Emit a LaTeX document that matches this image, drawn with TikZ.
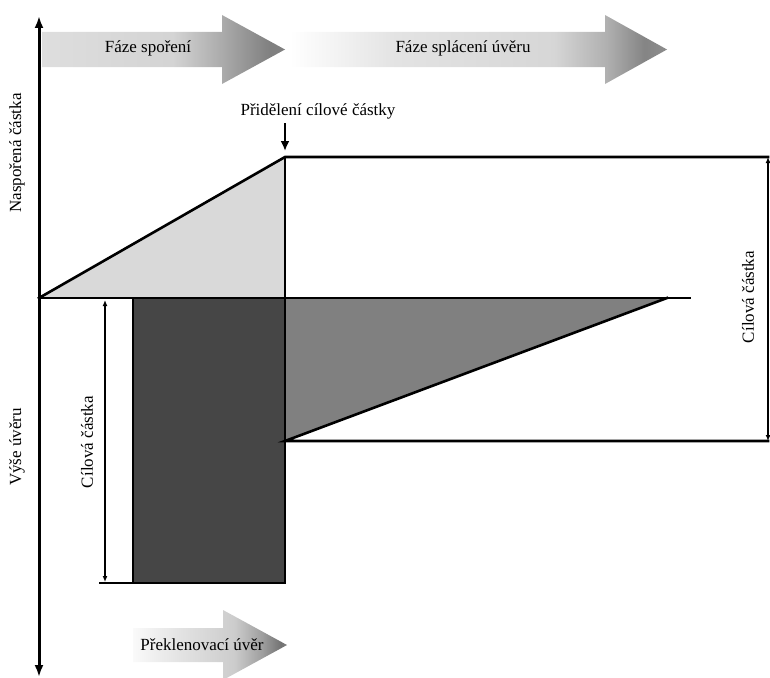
\documentclass[tikz,border=0pt]{standalone}
\usepackage{fontspec}
\setmainfont{Liberation Serif}
\usetikzlibrary{arrows.meta}

% horizontal fades for the three phase arrows (path box = 25bp..75bp)
\pgfdeclarehorizontalshading{savingshade}{100bp}{%
  rgb(0bp)=(.87,.87,.87); rgb(25bp)=(.87,.87,.87); rgb(52bp)=(.83,.83,.83);
  rgb(62bp)=(.67,.67,.67); rgb(72bp)=(.50,.50,.50); rgb(75bp)=(.50,.50,.50);
  rgb(100bp)=(.50,.50,.50)}
\pgfdeclarehorizontalshading{repayshade}{100bp}{%
  rgb(0bp)=(1,1,1); rgb(25bp)=(1,1,1); rgb(39bp)=(.89,.89,.89);
  rgb(60bp)=(.84,.84,.84); rgb(67bp)=(.69,.69,.69); rgb(72bp)=(.52,.52,.52);
  rgb(75bp)=(.55,.55,.55); rgb(100bp)=(.55,.55,.55)}
\pgfdeclarehorizontalshading{bridgeshade}{100bp}{%
  rgb(0bp)=(.98,.98,.98); rgb(25bp)=(.98,.98,.98); rgb(40bp)=(.89,.89,.89);
  rgb(58bp)=(.80,.80,.80); rgb(67bp)=(.62,.62,.62); rgb(73bp)=(.45,.45,.45);
  rgb(75bp)=(.50,.50,.50); rgb(100bp)=(.50,.50,.50)}

\definecolor{savefill}{HTML}{D9D9D9}
\definecolor{loanfill}{HTML}{464646}
\definecolor{repayfill}{HTML}{808080}

\tikzset{
  lbl/.style={font=\fontsize{17}{20}\selectfont, inner sep=1pt},
  edge/.style={line width=2.6pt, line cap=rect},
  axis/.style={line width=3pt, -{Latex[length=12pt,width=9pt]}},
  dim/.style={line width=2pt, {Latex[length=6pt,width=5pt]}-{Latex[length=6pt,width=5pt]}},
}

\begin{document}
\begin{tikzpicture}[x=1pt,y=-1pt]
\useasboundingbox (0,0) rectangle (770,677);

% key points of the chart
\coordinate (O) at (39,298);
\coordinate (T) at (285,157);
\coordinate (B) at (285,298);
\coordinate (L) at (285,441);
\coordinate (E) at (667,298);
\coordinate (H) at (690,298);
\coordinate (TR) at (768,157);
\coordinate (BR) at (768,441);
\coordinate (K1) at (133,298);
\coordinate (K2) at (285,583);
\coordinate (K3) at (100,583);

% phase arrows
\path[shading=savingshade] (42,32) -- (222,32) -- (222,15) -- (285,49.5)
  -- (222,84) -- (222,67) -- (42,67) -- cycle;
\path[shading=repayshade] (290,32) -- (605,32) -- (605,15) -- (667,49.5)
  -- (605,84) -- (605,67) -- (290,67) -- cycle;
\path[shading=bridgeshade] (133,628) -- (223,628) -- (223,610) -- (287,645)
  -- (223,680) -- (223,662) -- (133,662) -- cycle;
\node[lbl] (savephase) at (148,48) {Fáze spoření};
\node[lbl] (repayphase) at (463,48) {Fáze splácení úvěru};
\node[lbl] (bridge) at (202,645) {Překlenovací úvěr};

% savings triangle
\fill[savefill] (O) -- (T) -- (B) -- cycle;
% bridging loan block
\fill[loanfill] (K1) rectangle (K2);
% repayment triangle
\fill[repayfill] (B) -- (E) -- (L) -- cycle;

% outlines
\draw[edge] (O) -- (T) -- (TR);
\draw[edge] (T) -- (K2) -- (K3);
\draw[edge] (O) -- (H);
\draw[edge] (K1) -- (133,583);
\draw[edge] (E) -- (L) -- (BR);

% vertical axes
\coordinate (axtop) at (39,16);
\coordinate (axbot) at (39,677);
\draw[axis] (O) -- (axtop);
\draw[axis] (O) -- (axbot);

% dimension lines for the target amount
\draw[dim] (105,300) -- (105,582);
\draw[dim] (TR) -- (BR);

% allotment marker
\node[lbl] (allot) at (318,111) {Přidělení cílové částky};
\coordinate (allottip) at (285,151);
\draw[line width=2.5pt, -{Latex[length=10pt,width=9pt]}] (285,123) -- (allottip);

% rotated labels
\node[lbl, rotate=90] (saved) at (17,153) {Naspořená částka};
\node[lbl, rotate=90] (loan) at (17,447) {Výše úvěru};
\node[lbl, rotate=90] (targetL) at (87,442) {Cílová částka};
\node[lbl, rotate=90] (targetR) at (748,297) {Cílová částka};
\end{tikzpicture}
\end{document}
